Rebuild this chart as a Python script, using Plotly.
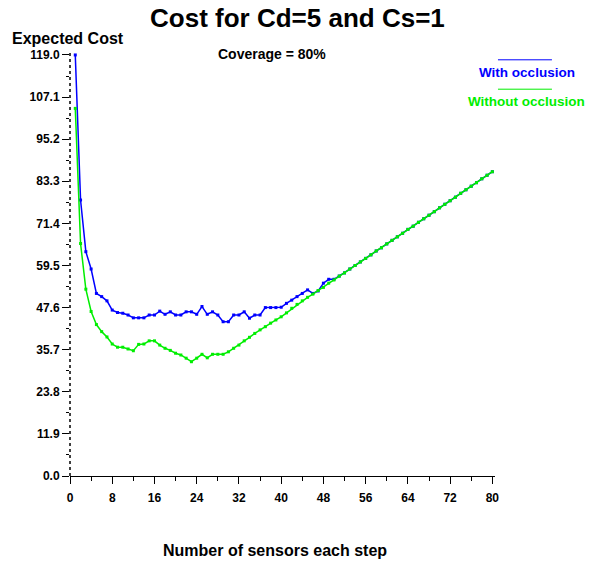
import plotly.graph_objects as go

sensors = list(range(1, 81))

with_occlusion = [
    119.0, 78.0, 63.4, 58.5, 51.6, 50.7, 49.5, 46.9, 46.2, 46.0,
    45.5, 44.7, 44.7, 44.7, 45.5, 45.5, 46.6, 45.7, 46.4, 45.5,
    45.5, 46.4, 46.4, 45.7, 47.9, 45.7, 46.4, 45.5, 43.6, 43.6,
    45.5, 45.5, 46.4, 44.6, 45.5, 45.5, 47.6, 47.6, 47.6, 47.7,
    48.8, 49.7, 50.7, 51.6, 52.6, 51.6, 52.3, 54.5, 55.6, 55.6,
    56.5, 57.4, 58.5, 59.5, 60.5, 61.5, 62.5, 63.6, 64.5, 65.6,
    66.6, 67.6, 68.6, 69.7, 70.6, 71.7, 72.7, 73.7, 74.7, 75.8,
    76.8, 77.8, 78.8, 79.9, 80.9, 81.9, 82.9, 84.0, 85.0, 86.0,
]

without_occlusion = [
    103.9, 65.7, 52.8, 46.5, 42.8, 40.8, 39.3, 37.3, 36.4, 36.4,
    35.9, 35.4, 37.2, 37.3, 38.2, 38.2, 37.0, 36.1, 35.5, 34.7,
    34.2, 33.3, 32.3, 33.3, 34.4, 33.4, 34.4, 34.4, 34.4, 35.1,
    36.1, 37.0, 38.2, 39.2, 40.3, 41.3, 42.2, 43.2, 44.1, 45.0,
    46.1, 47.4, 48.5, 49.5, 50.5, 51.4, 52.4, 53.3, 54.5, 55.4,
    56.5, 57.4, 58.5, 59.5, 60.5, 61.5, 62.5, 63.6, 64.5, 65.6,
    66.6, 67.6, 68.6, 69.7, 70.6, 71.7, 72.7, 73.7, 74.7, 75.8,
    76.8, 77.8, 78.8, 79.9, 80.9, 81.9, 82.9, 84.0, 85.0, 86.0,
]

y_ticks = [0.0, 11.9, 23.8, 35.7, 47.6, 59.5, 71.4, 83.3, 95.2, 107.1, 119.0]
x_ticks = [0, 8, 16, 24, 32, 40, 48, 56, 64, 72, 80]

BLUE = "#0000ff"
GREEN = "#00ee00"
FONT = "Liberation Sans"

fig = go.Figure()
fig.add_trace(go.Scatter(
    x=sensors, y=with_occlusion, mode="lines+markers", name="With occlusion",
    line=dict(color=BLUE, width=1.5),
    marker=dict(symbol="square", size=3, color=BLUE),
))
fig.add_trace(go.Scatter(
    x=sensors, y=without_occlusion, mode="lines+markers", name="Without occlusion",
    line=dict(color=GREEN, width=1.5),
    marker=dict(symbol="square", size=3, color=GREEN),
))

fig.update_layout(
    width=589, height=567,
    margin=dict(l=70, r=94, t=50, b=91, autoexpand=False),
    paper_bgcolor="white", plot_bgcolor="white",
    showlegend=False,
    font=dict(family=FONT, color="black"),
    title=dict(text="<b>Cost for Cd=5 and Cs=1</b>", x=0.505, xanchor="center",
               xref="container", y=0.968, yanchor="middle", automargin=False,
               font=dict(size=26, family=FONT, color="black")),
)

fig.update_xaxes(
    range=[0, 80.5], tickvals=x_ticks, ticktext=[f"<b>{v}</b>" for v in x_ticks],
    automargin=False,
    showgrid=False, zeroline=False, showline=True, linecolor="black", linewidth=1,
    ticks="outside", ticklen=7, tickwidth=1, tickcolor="black",
    ticklabelstandoff=4,
    tickfont=dict(size=12, family=FONT),
    minor=dict(dtick=4, ticks="outside", ticklen=4, tickcolor="black", tickwidth=1),
)
fig.update_yaxes(
    range=[0, 120.4], tickvals=y_ticks, ticktext=[f"<b>{v:.1f}</b>" for v in y_ticks],
    automargin=False,
    showgrid=False, zeroline=False, showline=False,
    ticks="outside", ticklen=7, tickwidth=1, tickcolor="black",
    tickfont=dict(size=12, family=FONT),
    minor=dict(tickvals=[v + 5.95 for v in y_ticks[:-1]], ticks="outside", ticklen=3,
               tickcolor="black", tickwidth=1),
)

# dotted y axis line
fig.add_shape(type="line", xref="paper", yref="paper", x0=0, x1=0, y0=0, y1=1.0,
              line=dict(color="black", width=1.5, dash="dot"))

# axis titles and annotations
fig.add_annotation(text="<b>Expected Cost</b>", xref="paper", yref="paper",
                   x=-0.141, y=1.028, xanchor="left", yanchor="middle", showarrow=False,
                   font=dict(size=16, family=FONT))
fig.add_annotation(text="<b>Number of sensors each step</b>", xref="paper", yref="paper",
                   x=0.482, y=-0.176, xanchor="center", yanchor="middle", showarrow=False,
                   font=dict(size=16, family=FONT))
fig.add_annotation(text="<b>Coverage = 80%</b>", xref="paper", yref="paper",
                   x=0.475, y=0.991, xanchor="center", yanchor="middle", showarrow=False,
                   font=dict(size=14, family=FONT))

# legend (custom)
fig.add_shape(type="line", xref="paper", yref="paper", x0=1.007, x1=1.134, y0=0.977, y1=0.977,
              line=dict(color=BLUE, width=1))
fig.add_annotation(text="<b>With occlusion</b>", xref="paper", yref="paper",
                   x=1.075, y=0.948, xanchor="center", yanchor="middle", showarrow=False,
                   font=dict(size=13.5, family=FONT, color=BLUE))
fig.add_shape(type="line", xref="paper", yref="paper", x0=1.007, x1=1.134, y0=0.908, y1=0.908,
              line=dict(color=GREEN, width=1))
fig.add_annotation(text="<b>Without occlusion</b>", xref="paper", yref="paper",
                   x=1.075, y=0.880, xanchor="center", yanchor="middle", showarrow=False,
                   font=dict(size=13.5, family=FONT, color=GREEN))

fig.write_html("out.html", config={"displayModeBar": False},
               post_script="document.body.style.margin='0';")
